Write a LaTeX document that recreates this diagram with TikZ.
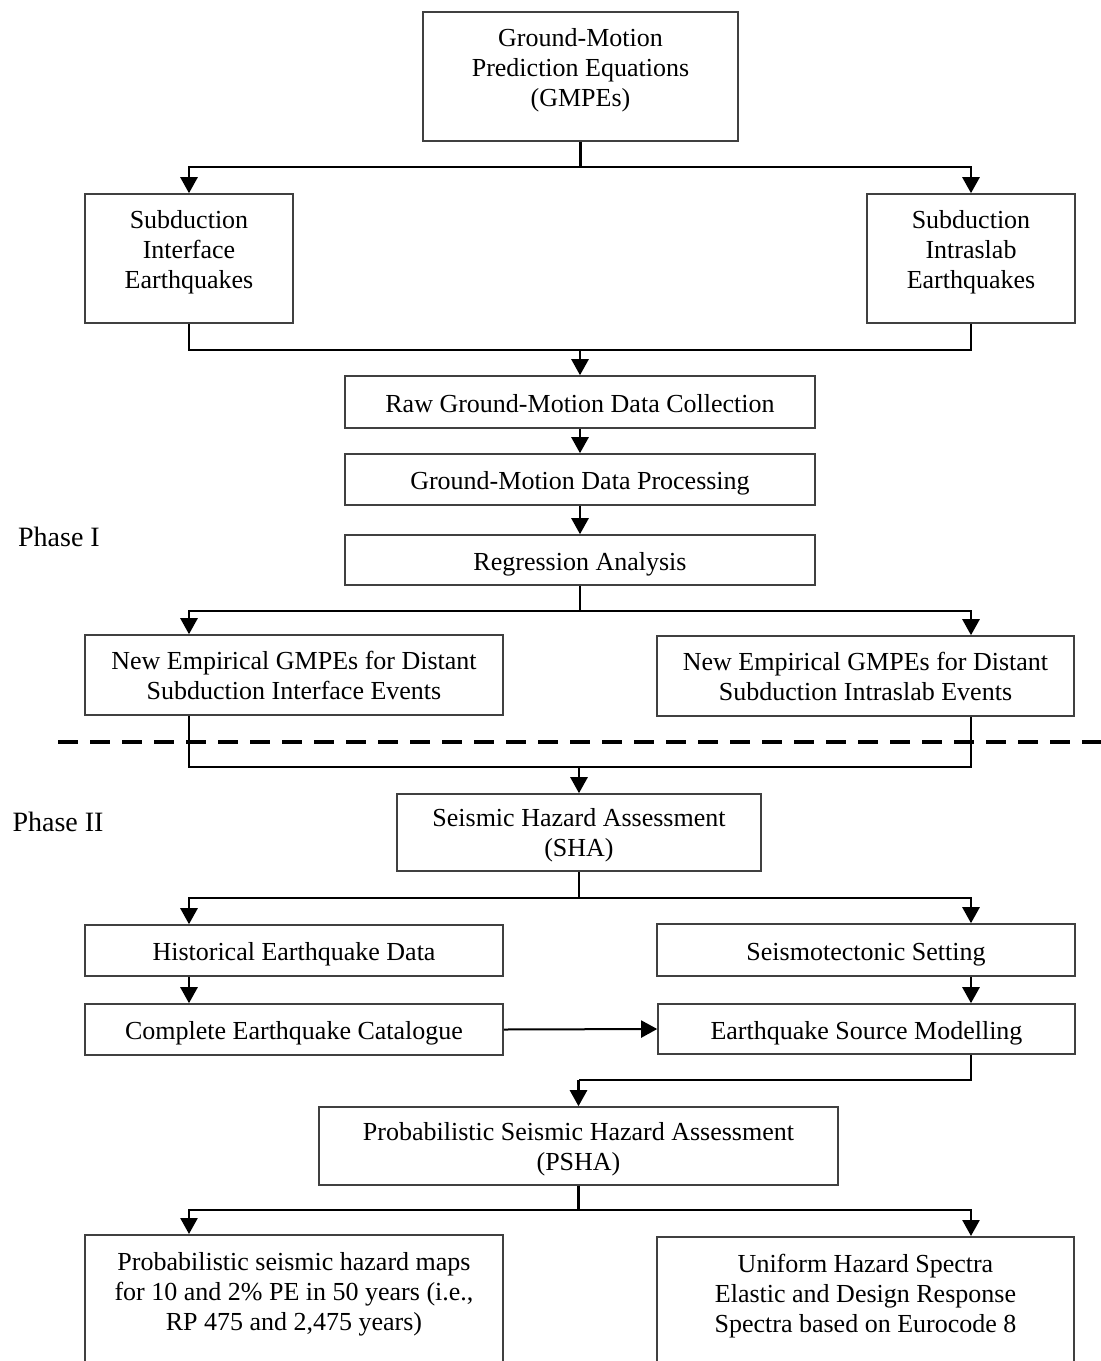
\documentclass[tikz,border=0pt]{standalone}
\usepackage{fontspec}
\setmainfont{Liberation Serif}
\usepackage{tikz}
\usetikzlibrary{arrows.meta,calc}

\begin{document}
\begin{tikzpicture}[x=0.5pt, y=0.5pt,
		box_style/.style={draw=black!75,line width=0.8pt,align=center,inner sep=0pt,
			font=\fontsize{13}{15}\selectfont},
		one_line/.style={text height=10pt,text depth=0pt},
		two_line/.style={text depth=0pt},
		three_line/.style={text depth=8.8pt},
		text_style/.style={align=center,font=\fontsize{13}{15}\selectfont},
		phase_style/.style={font=\fontsize{14}{16}\selectfont},
		line_style/.style={draw=black,line width=1.3pt},
		arrow_style/.style={line_style,-{Triangle[length=8pt,width=8.5pt]}}]
		
		\clip (0,0) rectangle (1101,-1361);
		
		% sizes are in pt, half the pixel values
		\node[box_style,three_line,minimum width=157.5,minimum height=64.5] (gmpe) at (580.5,-76.5) {Ground-Motion\\Prediction Equations\\(GMPEs)};
		\node[box_style,three_line,minimum width=104,minimum height=64.5] (iface) at (189,-258.5) {Subduction\\Interface\\Earthquakes};
		\node[box_style,three_line,minimum width=104,minimum height=64.5] (islab) at (971,-258.5) {Subduction\\Intraslab\\Earthquakes};
		\node[box_style,one_line,minimum width=235,minimum height=26] (raw) at (580,-402) {Raw Ground-Motion Data Collection};
		\node[box_style,one_line,minimum width=235,minimum height=25.5] (proc) at (580,-479.5) {Ground-Motion Data Processing};
		\node[box_style,one_line,minimum width=235,minimum height=25] (regr) at (580,-560) {Regression Analysis};
		\node[box_style,minimum width=209,minimum height=40] (newif) at (294,-675) {New Empirical GMPEs for Distant\\Subduction Interface Events};
		\node[box_style,minimum width=208.5,minimum height=40] (newis) at (865.5,-676) {New Empirical GMPEs for Distant\\Subduction Intraslab Events};
		\node[box_style,two_line,minimum width=182,minimum height=38.5] (sha) at (579,-832.5) {Seismic Hazard Assessment\\(SHA)};
		\node[box_style,one_line,minimum width=209,minimum height=25.5] (hist) at (294,-950.5) {Historical Earthquake Data};
		\node[box_style,one_line,minimum width=209,minimum height=26] (seis) at (866,-950) {Seismotectonic Setting};
		\node[box_style,one_line,minimum width=209,minimum height=25.5] (cat) at (294,-1029.5) {Complete Earthquake Catalogue};
		\node[box_style,one_line,minimum width=208.5,minimum height=25] (src) at (866.5,-1029) {Earthquake Source Modelling};
		\node[box_style,two_line,minimum width=259.5,minimum height=39] (psha) at (578.5,-1146) {Probabilistic Seismic Hazard Assessment\\(PSHA)};
		\node[box_style,minimum width=209,minimum height=80,anchor=north] (maps) at (294,-1234) {};
		\node[text_style,anchor=north] (mapstext) at (294,-1245) {Probabilistic seismic hazard maps\\for 10 and 2\% PE in 50 years (i.e.,\\RP 475 and 2,475 years)};
		\node[box_style,minimum width=208.5,minimum height=80,anchor=north] (uhs) at (865.5,-1236) {};
		\node[text_style,anchor=north] (uhstext) at (865.5,-1247) {Uniform Hazard Spectra\\Elastic and Design Response\\Spectra based on Eurocode 8};
		
		\node[phase_style] (ph1) at (59,-537) {Phase I};
		\node[phase_style] (ph2) at (58,-822) {Phase II};
		
		\coordinate (j1) at (580.5,-167);
		\coordinate (j2) at (580,-350);
		\coordinate (j3) at (580,-611);
		\coordinate (j4) at (579,-767);
		\coordinate (j5) at (579,-898);
		\coordinate (j6) at (578.5,-1080);
		\coordinate (j7) at (578.5,-1210);
		
		\draw[line_style]  (gmpe.south) -- (j1);
		\draw[arrow_style] (j1) -| (iface.north);
		\draw[arrow_style] (j1) -| (islab.north);
		\draw[line_style]  (iface.south) |- (j2);
		\draw[line_style]  (islab.south) |- (j2);
		\draw[arrow_style] (j2) -- (raw.north);
		\draw[arrow_style] (raw.south) -- (proc.north);
		\draw[arrow_style] (proc.south) -- (regr.north);
		\draw[line_style]  (regr.south) -- (j3);
		\draw[arrow_style] (j3) -| (iface |- newif.north);
		\draw[arrow_style] (j3) -| (islab |- newis.north);
		
		\draw[line width=2pt,dash pattern=on 10pt off 6pt] (58,-742) -- (1101,-742);
		
		\draw[line_style]  (iface |- newif.south) |- (j4);
		\draw[line_style]  (islab |- newis.south) |- (j4);
		\draw[arrow_style] (j4) -- (sha.north);
		\draw[line_style]  (sha.south) -- (j5);
		\draw[arrow_style] (j5) -| (iface |- hist.north);
		\draw[arrow_style] (j5) -| (islab |- seis.north);
		\draw[arrow_style] (iface |- hist.south) -- (iface |- cat.north);
		\draw[arrow_style] (islab |- seis.south) -- (islab |- src.north);
		\draw[arrow_style,line width=1pt] (cat.east) -- (src.west);
		\draw[line_style]  (islab |- src.south) |- (j6);
		\draw[arrow_style] (j6) -- (psha.north);
		\draw[line_style]  (psha.south) -- (j7);
		\draw[arrow_style] (j7) -| (iface |- maps.north);
		\draw[arrow_style] (j7) -| (islab |- uhs.north);
		
\end{tikzpicture}
\end{document}
